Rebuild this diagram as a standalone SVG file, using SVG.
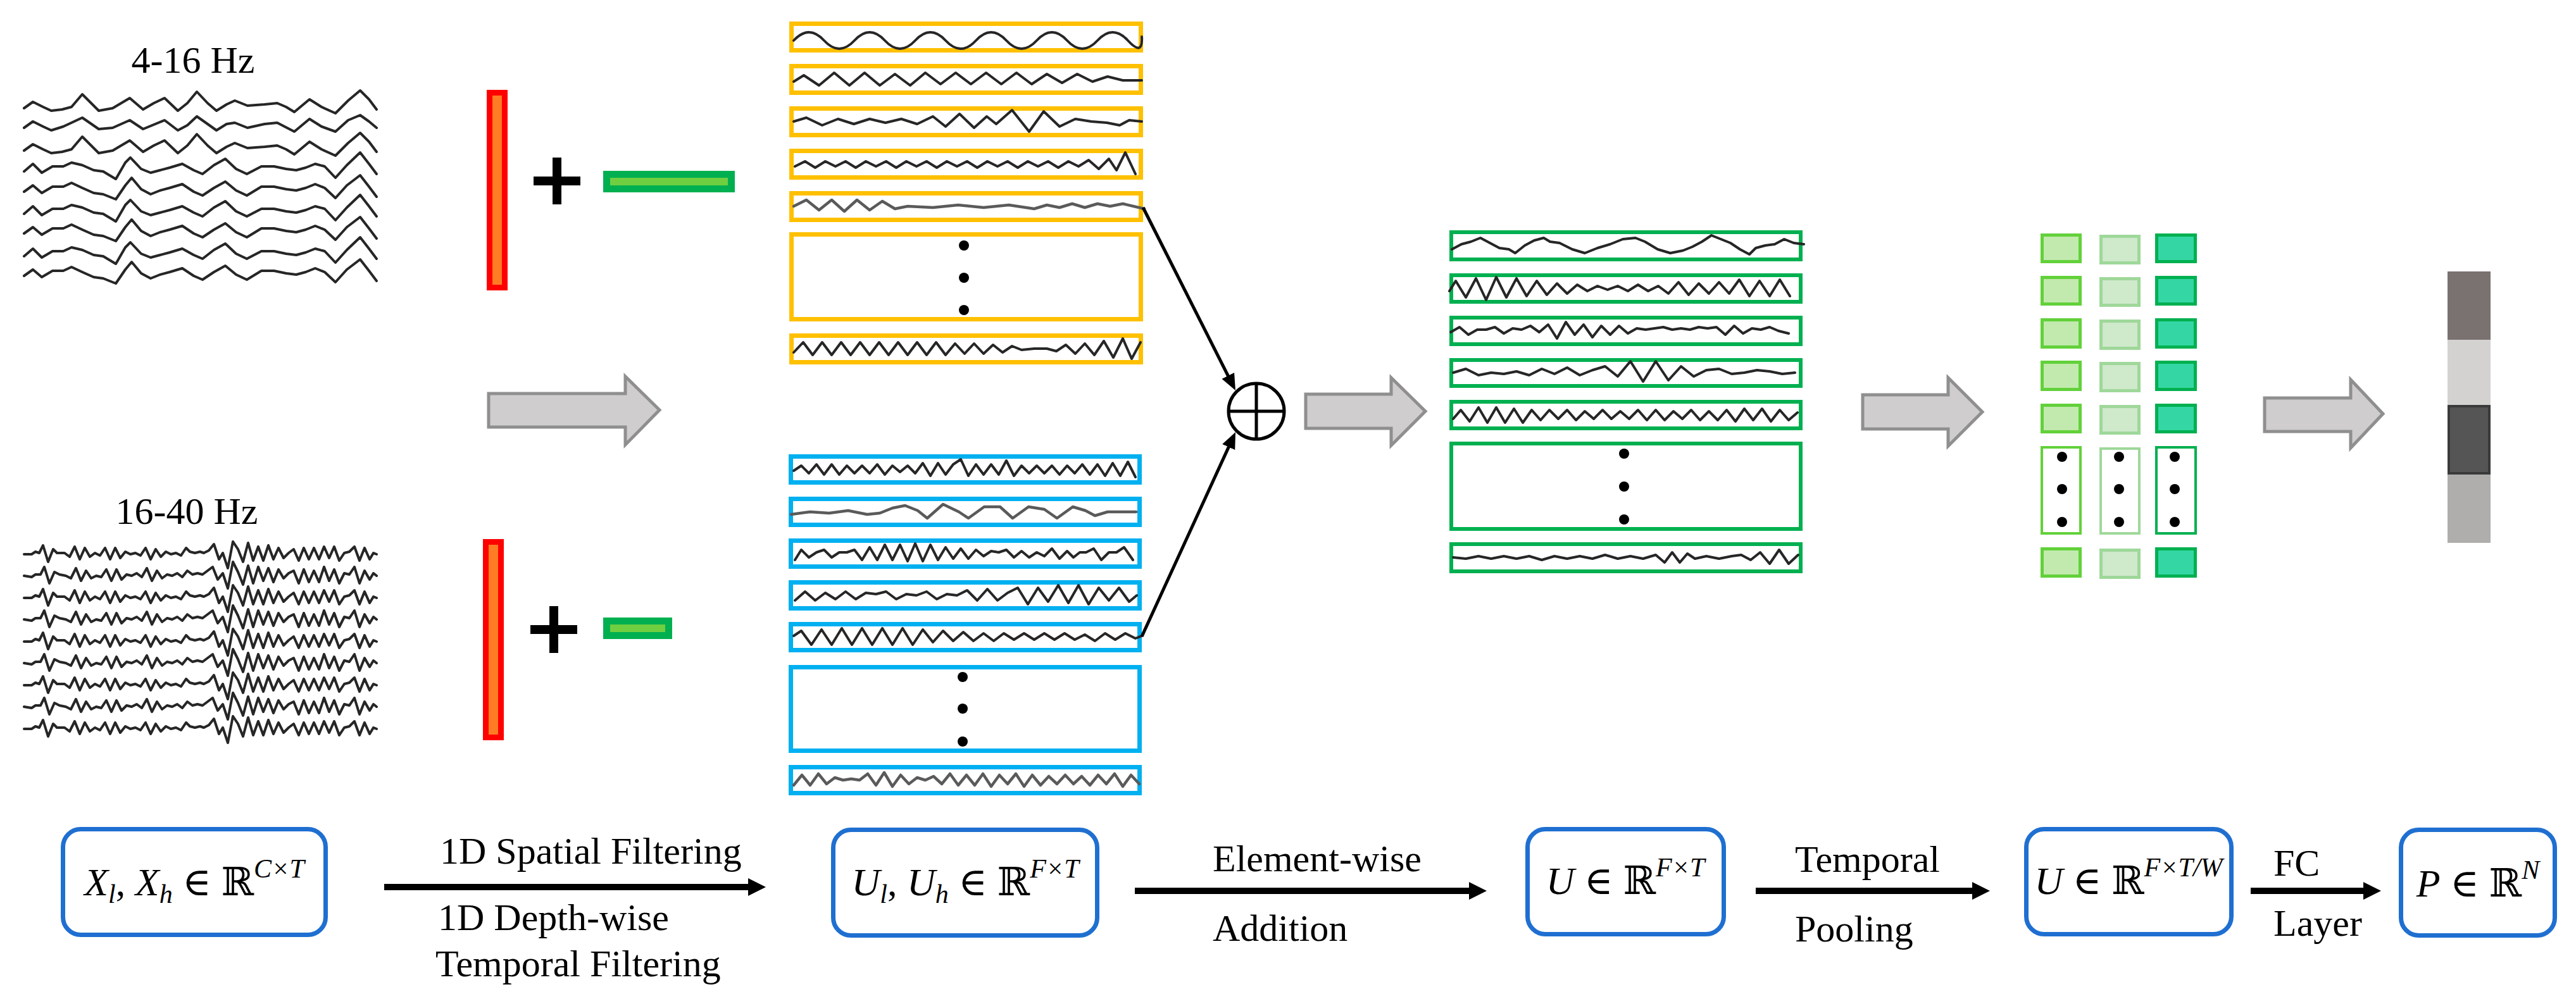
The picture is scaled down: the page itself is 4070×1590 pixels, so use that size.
<svg xmlns="http://www.w3.org/2000/svg" xmlns:xlink="http://www.w3.org/1999/xlink" width="4070" height="1590" viewBox="0 0 4070 1590">
<style>
.w{fill:none;stroke:#262626;stroke-width:4;stroke-linejoin:round;stroke-linecap:round}
.wg{fill:none;stroke:#5a5a5a;stroke-width:4.5;stroke-linejoin:round;stroke-linecap:round}
.yb{fill:#fff;stroke:#FFC000;stroke-width:7}
.bb{fill:#fff;stroke:#00B0F0;stroke-width:7}
.gb{fill:#fff;stroke:#00B050;stroke-width:6}
.dot{fill:#000}
.redbar{fill:#FF7C24;stroke:#FF0000;stroke-width:9}
.grnbar{fill:#70CF40;stroke:#00B050;stroke-width:11}
.plus{stroke:#000;stroke-width:14;fill:none}
.blk{fill:#D0CDCE;stroke:#8F8F8F;stroke-width:5;stroke-linejoin:miter}
.c1{fill:#C2EAAE;stroke:#62D13A;stroke-width:5}
.c2{fill:#CFE9CB;stroke:#9FD89A;stroke-width:5}
.c3{fill:#34D7A4;stroke:#00B050;stroke-width:5}
.c1e{fill:#fff;stroke:#62D13A;stroke-width:4}
.c2e{fill:#fff;stroke:#9FD89A;stroke-width:4}
.c3e{fill:#fff;stroke:#00B050;stroke-width:4}
.node{fill:#fff;stroke:#1F6FD1;stroke-width:7}
.lbl{font-family:"Liberation Serif","Times New Roman",serif;font-size:60px;fill:#000}
.math{font-family:"Liberation Serif","DejaVu Serif",serif;font-size:62px;fill:#000}
.it{font-style:italic}
.sm{font-size:42px}
.thick{stroke:#000;stroke-width:10;fill:none}
.thin{stroke:#000;stroke-width:5;fill:none}
</style>
<defs>
<marker id="ah" viewBox="0 0 28 28" markerWidth="28" markerHeight="28" markerUnits="userSpaceOnUse" refX="8" refY="14" orient="auto"><path d="M0,0 L28,14 L0,28 z" fill="#000"/></marker>
<marker id="ah2" viewBox="0 0 26 22" markerWidth="26" markerHeight="22" markerUnits="userSpaceOnUse" refX="11" refY="11" orient="auto"><path d="M0,0 L26,11 L0,22 z" fill="#000"/></marker>
<path id="wa1" d="M0,6 L14,-4 L30,4 L43,10 L60,8 L75,4 L92,-16 L106,-2 L118,10 L140,6 L167,-10 L188,8 L205,-2 L222,-10 L243,10 L258,-2 L273,-20 L290,-2 L304,10 L320,0 L333,-6 L353,2 L380,0 L400,-2 L414,4 L427,12 L451,-8 L470,4 L492,14 L512,-6 L531,-22 L545,-8 L557,8"/>
<path id="wa1b" d="M0,4 L14,-6 L30,2 L43,8 L62,2 L92,-12 L118,6 L140,4 L167,-8 L188,6 L222,-8 L243,8 L258,0 L273,-14 L290,-2 L304,8 L320,-2 L333,-4 L353,4 L380,-2 L400,-4 L427,10 L451,-10 L470,2 L492,10 L512,-8 L531,-16 L545,-6 L557,4"/>
<path id="wa2" d="M0,6 L14,-6 L28,8 L45,-2 L62,-2 L75,-8 L92,-4 L110,4 L125,6 L145,18 L160,-8 L168,-16 L185,2 L200,8 L215,4 L230,0 L250,-6 L268,4 L282,10 L300,-4 L318,-14 L335,2 L352,10 L375,-2 L395,-2 L414,2 L430,4 L445,0 L460,-6 L475,-2 L492,16 L510,-4 L531,-24 L545,-6 L557,10"/>
<path id="wa2b" d="M0,4 L14,-6 L28,6 L45,-4 L62,-4 L75,-10 L92,-2 L110,6 L125,8 L145,16 L160,-6 L170,-18 L185,0 L200,8 L215,2 L230,-2 L250,-8 L268,4 L282,10 L300,-2 L318,-12 L335,2 L352,10 L375,-4 L395,-4 L414,0 L430,2 L445,-2 L460,-8 L475,-2 L492,14 L510,-6 L531,-22 L545,-4 L557,12"/>
<path id="wb1" d="M0,0 L12,0 L18,-4 L24,-2 L30,-14 L38,12 L46,-8 L52,-2 L64,-2 L72,4 L80,-12 L88,8 L96,-10 L104,4 L112,-2 L120,2 L128,-10 L136,8 L144,-10 L152,6 L160,-4 L168,0 L176,-2 L184,2 L192,-10 L200,8 L208,-8 L216,4 L224,-4 L232,0 L240,-2 L248,2 L256,-10 L262,-4 L270,-2 L278,-4 L284,-2 L292,-6 L300,-16 L308,8 L314,-2 L322,22 L330,-20 L338,-8 L346,12 L354,-18 L362,10 L370,-12 L378,10 L386,-14 L394,8 L402,-10 L410,6 L418,-2 L426,-8 L434,10 L442,-10 L450,8 L458,-10 L466,8 L474,-12 L482,6 L490,-12 L498,10 L506,-2 L514,-4 L522,-12 L530,10 L538,-10 L546,8 L552,-2 L557,0"/>
<path id="wb2" d="M0,0 L12,2 L18,-2 L26,-2 L32,-14 L40,12 L48,-6 L56,-2 L66,0 L74,4 L82,-12 L90,8 L98,-8 L106,4 L114,0 L122,2 L130,-10 L138,8 L146,-10 L154,6 L162,-2 L170,0 L178,-4 L186,2 L194,-12 L202,8 L210,-8 L218,4 L226,-2 L234,0 L242,-4 L250,2 L258,-8 L266,-2 L274,-4 L282,-2 L290,-8 L298,-14 L306,6 L314,-4 L322,20 L330,-22 L338,-6 L346,14 L354,-16 L362,12 L370,-14 L378,8 L386,-12 L394,10 L402,-10 L410,4 L418,-4 L426,-8 L434,12 L442,-10 L450,10 L458,-8 L466,10 L474,-14 L482,8 L490,-10 L498,12 L506,-4 L514,-2 L522,-14 L530,12 L538,-8 L546,6 L552,-4 L557,0"/>
<path id="y1" d="M0,6 q24,-26 48,0 t48,0 t48,0 t48,0 t48,0 t48,0 t48,0 t48,0 t48,0 t48,0 t48,0 t22,-6"/>
<path id="y2" d="M0,4 L16,-6 L40,10 L64,-10 L88,10 L112,-10 L136,10 L160,-8 L184,10 L208,-10 L232,8 L256,-10 L280,8 L304,-10 L328,8 L352,-10 L376,8 L400,-8 L424,6 L448,-8 L472,4 L496,-4 L520,2 L550,2"/>
<path id="y3" d="M0,0 L20,-6 L45,6 L70,-4 L95,4 L120,-4 L145,2 L170,-4 L195,4 L220,-8 L240,8 L262,-12 L285,10 L305,-8 L320,4 L345,-18 L372,16 L395,-16 L420,8 L445,-4 L470,0 L495,2 L515,6 L530,-2 L550,0"/>
<path id="y4" d="M0,4 L16,-4 L32,6 L48,-4 L64,4 L80,-4 L96,6 L112,-4 L128,4 L144,-4 L160,6 L176,-4 L192,4 L208,-4 L224,6 L240,-4 L256,4 L272,-4 L288,6 L304,-4 L320,4 L336,-4 L352,6 L368,-4 L384,4 L400,-4 L416,6 L432,-4 L448,4 L464,-6 L480,8 L496,-8 L508,10 L522,-18 L538,16"/>
<path id="y5" d="M0,0 L20,-10 L40,6 L60,-10 L80,8 L100,-10 L120,6 L140,-8 L160,4 L180,0 L220,2 L260,-2 L300,2 L340,-2 L380,4 L400,-2 L420,2 L440,-4 L460,2 L480,-4 L500,0 L520,-4 L554,4"/>
<path id="y7" d="M0,6 L15,-10 L30,10 L45,-10 L60,10 L75,-10 L90,10 L105,-10 L120,10 L135,-10 L150,10 L165,-10 L180,10 L195,-10 L210,10 L225,-10 L240,10 L255,-8 L270,8 L285,-8 L300,8 L315,-6 L330,6 L345,-4 L360,2 L380,0 L400,0 L415,4 L430,-6 L445,8 L460,-8 L475,10 L490,-12 L505,14 L520,-16 L534,16 L548,-10"/>
<path id="b1" d="M0,2 L12,-6 L24,6 L36,-8 L48,8 L60,-8 L72,8 L84,-6 L96,6 L108,-6 L120,6 L132,-8 L144,8 L156,-6 L168,4 L180,-6 L192,6 L204,-10 L216,10 L228,-10 L240,8 L252,-8 L264,-16 L276,10 L288,-8 L300,8 L312,-8 L324,8 L336,-14 L348,10 L360,-6 L372,6 L384,-6 L396,6 L408,-6 L420,8 L432,-6 L444,6 L456,-8 L468,8 L480,-8 L492,10 L504,-10 L516,10 L528,-12 L540,12"/>
<path id="b2" d="M0,4 L30,0 L60,2 L90,-2 L120,4 L140,2 L160,-6 L180,-10 L200,-2 L215,10 L240,-12 L265,0 L280,10 L305,-8 L330,-8 L350,10 L375,-8 L400,-4 L420,10 L445,-8 L465,-2 L480,6 L500,0 L520,0 L545,0"/>
<path id="b3" d="M0,10 L10,-6 L22,6 L34,-2 L46,-6 L58,6 L70,-2 L82,-2 L94,-6 L106,10 L118,-10 L130,10 L142,-14 L154,10 L166,-14 L178,12 L190,-16 L202,12 L214,-14 L226,10 L238,-10 L250,8 L262,-8 L274,8 L286,-6 L298,4 L310,-4 L322,-2 L334,-6 L346,6 L358,-4 L370,6 L382,-2 L394,4 L406,-8 L418,8 L430,-4 L440,6 L450,-2 L460,-2 L472,-8 L484,10 L496,-2 L508,-2 L520,-10 L534,10"/>
<path id="b4" d="M0,8 L16,-6 L32,8 L48,-4 L64,6 L80,-6 L96,6 L112,-4 L128,-2 L144,-6 L160,6 L176,-2 L192,0 L208,-6 L224,6 L240,-2 L256,0 L272,-8 L288,8 L304,-10 L320,8 L336,-4 L352,-12 L368,14 L384,-12 L400,10 L416,-16 L432,12 L448,-16 L464,14 L480,-12 L496,8 L512,-12 L528,10 L540,0"/>
<path id="b5" d="M0,-2 L12,-10 L28,12 L44,-12 L60,12 L76,-14 L92,12 L108,-14 L124,12 L140,-14 L156,12 L172,-14 L188,12 L204,-12 L220,8 L236,-10 L252,6 L268,-8 L284,6 L300,-6 L316,6 L332,-6 L348,4 L364,-6 L380,4 L396,-6 L412,4 L428,-6 L444,4 L460,-4 L476,6 L492,-6 L508,4 L524,-6 L540,2 L550,-2"/>
<path id="b7" d="M0,8 L13,-8 L26,8 L39,-10 L52,6 L65,-4 L78,0 L91,-2 L104,0 L117,-10 L130,8 L143,-12 L156,10 L169,-8 L182,6 L195,-4 L208,0 L221,-6 L234,6 L247,-10 L260,8 L273,-8 L286,8 L299,-10 L312,10 L325,-8 L338,6 L351,-10 L364,10 L377,-8 L390,8 L403,-6 L416,6 L429,-8 L442,6 L455,-6 L468,8 L481,-8 L494,6 L507,-10 L520,10 L533,-8 L546,6"/>
<path id="g1" d="M0,6 L15,-2 L30,-6 L45,-12 L60,-4 L75,4 L90,6 L100,12 L115,0 L130,-8 L145,-12 L155,-6 L170,-4 L190,6 L210,12 L230,4 L250,-2 L270,-10 L290,-12 L305,-6 L325,6 L345,12 L365,8 L380,2 L395,-6 L410,-16 L425,-10 L440,-4 L455,6 L470,14 L480,4 L495,0 L510,-2 L525,-10 L540,-4 L556,-2"/>
<path id="g2" d="M0,4 L10,-12 L26,14 L42,-16 L58,18 L74,-18 L90,14 L106,-16 L122,12 L138,-12 L154,10 L170,-8 L186,8 L202,-6 L218,4 L234,-4 L250,2 L266,-4 L282,4 L298,-6 L314,4 L330,-4 L346,8 L362,-10 L378,10 L394,-8 L410,8 L426,-10 L442,8 L458,-14 L474,12 L490,-12 L506,12 L522,-14 L538,12"/>
<path id="g3" d="M0,2 L14,-6 L28,6 L42,-2 L56,-2 L70,-6 L84,4 L98,-4 L112,-2 L126,-8 L140,2 L154,-10 L168,12 L182,-14 L196,6 L210,-10 L224,10 L238,-8 L252,6 L266,-8 L280,4 L294,-4 L308,-2 L322,-4 L336,-6 L350,-2 L364,-4 L378,-2 L392,-6 L406,-4 L420,-6 L434,6 L448,-8 L462,4 L476,-4 L490,-2 L504,-6 L518,0 L534,4"/>
<path id="g4" d="M0,0 L20,-6 L40,4 L60,0 L80,2 L100,-2 L120,4 L140,-6 L160,2 L180,-8 L200,4 L220,-4 L240,-10 L260,6 L280,-18 L300,14 L320,-18 L340,12 L360,-10 L380,6 L400,-4 L420,-6 L440,2 L460,0 L480,-4 L500,-2 L520,2 L540,0"/>
<path id="g5" d="M0,6 L12,-8 L26,10 L40,-12 L54,12 L68,-12 L82,12 L96,-10 L110,12 L124,-8 L138,8 L152,-8 L166,6 L180,-8 L194,8 L208,-6 L222,6 L236,-8 L250,6 L264,-6 L278,6 L292,-8 L306,8 L320,-8 L334,8 L348,-6 L362,6 L376,-8 L390,8 L404,-6 L418,8 L432,-8 L446,10 L460,-10 L474,8 L488,-10 L502,10 L516,-8 L530,8 L544,-4"/>
<path id="g7" d="M0,0 L20,2 L40,-2 L60,2 L80,-2 L100,2 L120,-2 L140,4 L160,-2 L180,2 L200,-2 L220,2 L240,-4 L260,2 L280,-2 L300,2 L320,-4 L334,8 L346,-8 L358,8 L370,-6 L382,2 L400,-2 L420,2 L440,-2 L455,-4 L470,4 L485,-8 L500,10 L515,-12 L530,10 L545,-4"/>
</defs>
<rect x="0" y="0" width="4070" height="1590" fill="#fff"/>

<g id="eeg-low">
<text class="lbl" x="305" y="115" text-anchor="middle">4-16 Hz</text>
<use href="#wa1" class="w" x="38" y="165"/>
<use href="#wa1b" class="w" x="38" y="198"/>
<use href="#wa1" class="w" x="38" y="232"/>
<use href="#wa2" class="w" x="38" y="265"/>
<use href="#wa2b" class="w" x="38" y="299"/>
<use href="#wa2" class="w" x="38" y="332"/>
<use href="#wa2b" class="w" x="38" y="365"/>
<use href="#wa2" class="w" x="38" y="399"/>
<use href="#wa2b" class="w" x="38" y="432"/>
</g>

<g id="eeg-high">
<text class="lbl" x="295" y="828" text-anchor="middle">16-40 Hz</text>
<use href="#wb1" class="w" x="38" y="876"/>
<use href="#wb2" class="w" x="38" y="910"/>
<use href="#wb1" class="w" x="38" y="945"/>
<use href="#wb2" class="w" x="38" y="979"/>
<use href="#wb1" class="w" x="38" y="1014"/>
<use href="#wb2" class="w" x="38" y="1048"/>
<use href="#wb1" class="w" x="38" y="1083"/>
<use href="#wb2" class="w" x="38" y="1117"/>
<use href="#wb1" class="w" x="38" y="1152"/>
</g>

<g id="filters-low">
<rect class="redbar" x="773.5" y="146.5" width="24" height="308"/>
<path class="plus" d="M843,286 H917 M880,249 V323"/>
<rect class="grnbar" x="958.5" y="275.5" width="197" height="23"/>
</g>

<g id="filters-high">
<rect class="redbar" x="767.5" y="856.5" width="24" height="309"/>
<path class="plus" d="M838,995 H912 M875,958 V1032"/>
<rect class="grnbar" x="958.5" y="981.5" width="98" height="23"/>
</g>

<g id="feature-low">
<rect class="yb" x="1250.5" y="37.5" width="552" height="42"/>
<rect class="yb" x="1250.5" y="104.5" width="552" height="42"/>
<rect class="yb" x="1250.5" y="171.5" width="552" height="42"/>
<rect class="yb" x="1250.5" y="238.5" width="552" height="42"/>
<rect class="yb" x="1250.5" y="305.5" width="552" height="42"/>
<rect class="yb" x="1250.5" y="370.5" width="552" height="134"/>
<rect class="yb" x="1250.5" y="530.5" width="552" height="42"/>
<use href="#y1" class="w" x="1254" y="58"/>
<use href="#y2" class="w" x="1254" y="125"/>
<use href="#y3" class="w" x="1254" y="192"/>
<use href="#y4" class="w" x="1256" y="259"/>
<use href="#y5" class="wg" x="1254" y="326"/>
<use href="#y7" class="w" x="1254" y="551"/>
<circle class="dot" cx="1523" cy="388" r="8"/>
<circle class="dot" cx="1523" cy="439" r="8"/>
<circle class="dot" cx="1523" cy="490" r="8"/>
</g>

<g id="feature-high">
<rect class="bb" x="1249.5" y="721.5" width="551" height="41"/>
<rect class="bb" x="1249.5" y="788.5" width="551" height="41"/>
<rect class="bb" x="1249.5" y="854.5" width="551" height="41"/>
<rect class="bb" x="1249.5" y="920.5" width="551" height="41"/>
<rect class="bb" x="1249.5" y="986.5" width="551" height="41"/>
<rect class="bb" x="1249.5" y="1054.5" width="551" height="132"/>
<rect class="bb" x="1249.5" y="1212.5" width="551" height="41"/>
<use href="#b1" class="w" x="1254" y="742"/>
<use href="#b2" class="wg" x="1250" y="809"/>
<use href="#b3" class="w" x="1256" y="875"/>
<use href="#b4" class="w" x="1256" y="941"/>
<use href="#b5" class="w" x="1254" y="1007"/>
<use href="#b7" class="wg" x="1254" y="1233"/>
<circle class="dot" cx="1521" cy="1070" r="8"/>
<circle class="dot" cx="1521" cy="1120" r="8"/>
<circle class="dot" cx="1521" cy="1172" r="8"/>
</g>

<g id="oplus">
<circle cx="1985" cy="650" r="44" fill="#fff" stroke="#000" stroke-width="5"/>
<path d="M1941,650 H2029 M1985,606 V694" stroke="#000" stroke-width="5" fill="none"/>
</g>

<g id="feature-sum">
<rect class="gb" x="2293" y="367" width="552" height="43"/>
<rect class="gb" x="2293" y="435" width="552" height="42"/>
<rect class="gb" x="2293" y="502" width="552" height="42"/>
<rect class="gb" x="2293" y="569" width="552" height="41"/>
<rect class="gb" x="2293" y="635" width="552" height="42"/>
<rect class="gb" x="2293" y="701" width="552" height="135"/>
<rect class="gb" x="2293" y="860" width="552" height="43"/>
<use href="#g1" class="w" x="2294" y="388"/>
<use href="#g2" class="w" x="2290" y="456"/>
<use href="#g3" class="w" x="2292" y="523"/>
<use href="#g4" class="w" x="2296" y="589"/>
<use href="#g5" class="w" x="2296" y="656"/>
<use href="#g7" class="w" x="2296" y="881"/>
<circle class="dot" cx="2566" cy="717" r="8"/>
<circle class="dot" cx="2566" cy="769" r="8"/>
<circle class="dot" cx="2566" cy="821" r="8"/>
</g>

<g id="pooled">
<rect class="c1" x="3226.5" y="371.5" width="60" height="42"/>
<rect class="c1" x="3226.5" y="438.5" width="60" height="42"/>
<rect class="c1" x="3226.5" y="505.5" width="60" height="43"/>
<rect class="c1" x="3226.5" y="572.5" width="60" height="43"/>
<rect class="c1" x="3226.5" y="640.5" width="60" height="42"/>
<rect class="c1e" x="3226" y="707" width="61" height="136"/>
<rect class="c1" x="3226.5" y="867.5" width="60" height="43"/>
<rect class="c2" x="3319.5" y="373.5" width="60" height="42"/>
<rect class="c2" x="3319.5" y="440.5" width="60" height="42"/>
<rect class="c2" x="3319.5" y="507.5" width="60" height="43"/>
<rect class="c2" x="3319.5" y="574.5" width="60" height="43"/>
<rect class="c2" x="3319.5" y="642.5" width="60" height="42"/>
<rect class="c2e" x="3319" y="709" width="61" height="134"/>
<rect class="c2" x="3319.5" y="869.5" width="60" height="43"/>
<rect class="c3" x="3407.5" y="371.5" width="61" height="42"/>
<rect class="c3" x="3407.5" y="438.5" width="61" height="42"/>
<rect class="c3" x="3407.5" y="505.5" width="61" height="43"/>
<rect class="c3" x="3407.5" y="572.5" width="61" height="43"/>
<rect class="c3" x="3407.5" y="640.5" width="61" height="42"/>
<rect class="c3e" x="3407" y="707" width="62" height="136"/>
<rect class="c3" x="3407.5" y="867.5" width="61" height="43"/>
<circle class="dot" cx="3258" cy="722" r="8"/>
<circle class="dot" cx="3258" cy="773" r="8"/>
<circle class="dot" cx="3258" cy="825" r="8"/>
<circle class="dot" cx="3348" cy="722" r="8"/>
<circle class="dot" cx="3348" cy="773" r="8"/>
<circle class="dot" cx="3348" cy="825" r="8"/>
<circle class="dot" cx="3436" cy="722" r="8"/>
<circle class="dot" cx="3436" cy="773" r="8"/>
<circle class="dot" cx="3436" cy="825" r="8"/>
</g>

<g id="output">
<rect x="3867" y="429" width="68" height="108" fill="#7A7171"/>
<rect x="3867" y="537" width="68" height="103" fill="#D4D1D1"/>
<rect x="3869" y="642" width="64" height="106" fill="#555555" stroke="#3a3a3a" stroke-width="4"/>
<rect x="3867" y="750" width="68" height="108" fill="#AFAEAC"/>
</g>

<g id="n1">
<rect class="node" x="99.5" y="1310.5" width="415" height="167" rx="28"/>
<text class="math" x="307" y="1415" text-anchor="middle"><tspan class="it">X</tspan><tspan class="it sm" dy="12">l</tspan><tspan dy="-12">, </tspan><tspan class="it">X</tspan><tspan class="it sm" dy="12">h</tspan><tspan dy="-12"> ∈ ℝ</tspan><tspan class="it sm" dy="-28">C×T</tspan></text>
</g>
<g id="n2">
<rect class="node" x="1316.5" y="1311.5" width="417" height="167" rx="28"/>
<text class="math" x="1525" y="1415" text-anchor="middle"><tspan class="it">U</tspan><tspan class="it sm" dy="12">l</tspan><tspan dy="-12">, </tspan><tspan class="it">U</tspan><tspan class="it sm" dy="12">h</tspan><tspan dy="-12"> ∈ ℝ</tspan><tspan class="it sm" dy="-28">F×T</tspan></text>
</g>
<g id="n3">
<rect class="node" x="2413.5" y="1310.5" width="310" height="166" rx="28"/>
<text class="math" x="2568" y="1413" text-anchor="middle"><tspan class="it">U</tspan><tspan> ∈ ℝ</tspan><tspan class="it sm" dy="-28">F×T</tspan></text>
</g>
<g id="n4">
<rect class="node" x="3201.5" y="1310.5" width="324" height="166" rx="28"/>
<text class="math" x="3363" y="1413" text-anchor="middle"><tspan class="it">U</tspan><tspan> ∈ ℝ</tspan><tspan class="it sm" dy="-28">F×T/W</tspan></text>
</g>
<g id="n5">
<rect class="node" x="3793.5" y="1311.5" width="243" height="167" rx="28"/>
<text class="math" x="3915" y="1417" text-anchor="middle"><tspan class="it">P</tspan><tspan> ∈ ℝ</tspan><tspan class="it sm" dy="-28">N</tspan></text>
</g>

<g id="connectors">
<polygon class="blk" points="772,622 988,622 988,595 1042,648 988,703 988,675 772,675"/>
<polygon class="blk" points="2063,623 2198,623 2198,597 2252,650 2198,704 2198,677 2063,677"/>
<polygon class="blk" points="2943,624 3078,624 3078,597 3132,651 3078,705 3078,678 2943,678"/>
<polygon class="blk" points="3578,629 3714,629 3714,600 3765,654 3714,708 3714,682 3578,682"/>
<line class="thin" x1="1806" y1="328" x2="1945.2" y2="603.6" marker-end="url(#ah2)"/>
<line class="thin" x1="1804" y1="1006" x2="1945.8" y2="696.6" marker-end="url(#ah2)"/>
<line class="thick" x1="607" y1="1402" x2="1190" y2="1402" marker-end="url(#ah)"/>
<line class="thick" x1="1793" y1="1408" x2="2329" y2="1408" marker-end="url(#ah)"/>
<line class="thick" x1="2774" y1="1408" x2="3124" y2="1408" marker-end="url(#ah)"/>
<line class="thick" x1="3556" y1="1408" x2="3742" y2="1408" marker-end="url(#ah)"/>
<text class="lbl" x="695" y="1365">1D Spatial Filtering</text>
<text class="lbl" x="692" y="1470">1D Depth-wise</text>
<text class="lbl" x="688" y="1543">Temporal Filtering</text>
<text class="lbl" x="1916" y="1377">Element-wise</text>
<text class="lbl" x="1916" y="1487">Addition</text>
<text class="lbl" x="2836" y="1378">Temporal</text>
<text class="lbl" x="2836" y="1488">Pooling</text>
<text class="lbl" x="3592" y="1384">FC</text>
<text class="lbl" x="3592" y="1479">Layer</text>
</g>
</svg>
